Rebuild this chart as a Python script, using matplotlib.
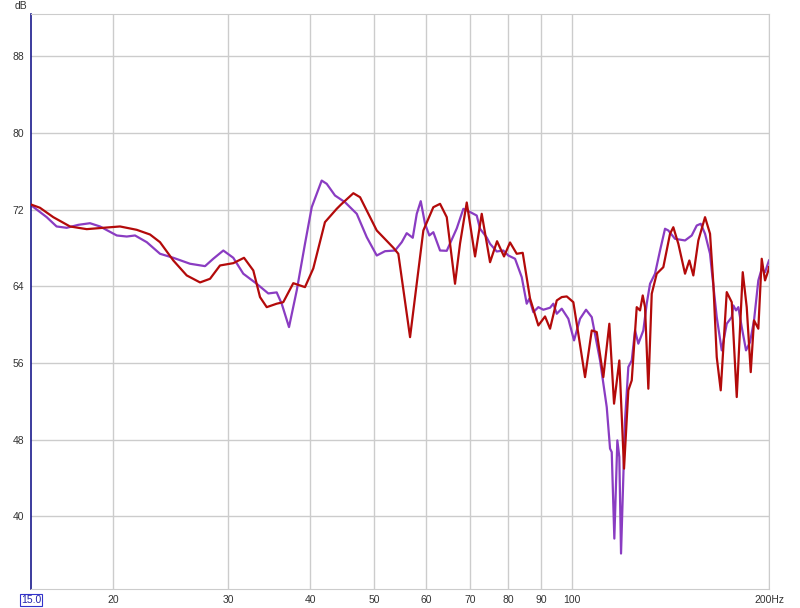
import numpy as np
import matplotlib
matplotlib.use("Agg")
import matplotlib.pyplot as plt
from matplotlib.ticker import FixedLocator, NullLocator

plt.rcParams['font.family'] = ['Liberation Sans', 'DejaVu Sans']

# red trace (Hz, dB)
red_f = [15.0, 15.48, 16.22, 17.20, 18.24, 19.33, 20.50, 21.74, 22.78, 23.59,
         24.72, 25.91, 27.15, 28.12, 29.12, 30.51, 31.68, 32.73, 33.51, 34.31,
         35.53, 36.36, 37.66, 39.24, 40.40, 42.09, 43.86, 44.53, 46.50, 47.61,
         48.45, 49.31, 50.48,
         53.51, 54.45, 56.74, 59.45, 61.57, 63.04, 64.54, 66.44, 67.62, 69.23,
         71.28, 72.97, 75.13, 77.0, 78.91, 80.59, 82.51, 84.26, 86.45, 89.01,
         91.13, 92.74, 94.95, 96.63, 98.34, 100.64, 102.42, 104.86, 107.36, 109.26,
         111.82, 114.20, 116.10, 118.27, 120.24, 122.07, 123.54, 125.72, 127.19, 128.40,
         129.44, 130.95, 132.52, 134.86, 138.02, 141.31, 142.95, 145.49, 148.95, 151.22,
         153.35, 156.07, 159.78, 162.61, 164.51, 166.48, 168.83, 172.43, 175.48, 178.59,
         182.39, 184.96, 187.58, 189.76, 192.65, 194.96, 197.23, 199.53, 200.0]
red_db = [72.52, 72.18, 71.20, 70.23, 69.95, 70.09, 70.23, 69.88, 69.39, 68.59,
          66.68, 65.12, 64.39, 64.77, 66.16, 66.40, 66.96, 65.64, 62.86, 61.81,
          62.17, 62.33, 64.31, 63.90, 65.85, 70.68, 72.07, 72.52, 73.70, 73.28,
          72.24, 71.20, 69.81,
          68.01, 67.38, 58.68, 69.81, 72.24, 72.59, 71.20, 64.25, 68.45, 72.73,
          67.10, 71.55, 66.50, 68.69, 67.10, 68.56, 67.38, 67.48, 62.72, 59.90,
          60.84, 59.56, 62.51, 62.86, 62.93, 62.33, 59.04, 54.51, 59.38, 59.21,
          54.51, 60.08, 51.74, 56.25, 44.96, 53.13, 54.17, 61.81, 61.47, 63.03,
          61.81, 53.30, 63.21, 65.30, 65.98, 69.47, 70.15, 68.42, 65.30, 66.68,
          65.12, 68.77, 71.20, 69.47, 64.25, 56.60, 53.13, 63.38, 62.33, 52.43,
          65.46, 61.81, 55.03, 60.43, 59.56, 66.86, 64.60, 65.64, 66.0]

# purple trace (Hz, dB)
pur_f = [15.0, 15.85, 16.41, 17.00, 17.71, 18.45, 19.11, 20.27, 20.99, 21.61,
         22.52, 23.59, 24.72, 26.21, 27.63, 28.44, 29.46, 30.51, 31.60, 33.12,
         34.50, 35.53, 36.16, 37.10, 38.12, 39.24, 40.18, 41.61, 42.35, 43.60,
         45.16, 47.06, 48.74, 50.48, 51.97, 53.83, 55.11, 56.08, 57.28, 58.09,
         58.91, 59.80, 60.71, 61.57, 63.04, 64.54, 66.84, 68.41, 70.03, 71.70,
         72.54, 74.26, 75.13, 76.92, 78.72, 80.11, 82.02, 83.97, 85.45, 86.24,
         87.46, 89.01, 90.58, 92.74, 93.82, 94.95, 96.63, 98.89, 100.89, 103.04,
         105.23, 107.36, 110.53, 113.16, 114.48, 115.16, 116.22, 117.45, 118.27, 118.98,
         120.66, 122.07, 123.54, 124.98, 126.43, 128.67, 130.21, 131.73, 134.06, 136.44,
         138.85, 140.47, 143.81, 148.95, 152.49, 155.20, 157.39, 159.78, 162.61, 163.58,
         166.48, 169.43, 172.43, 175.48, 176.47, 178.15, 179.59, 181.75, 184.51, 187.12,
         189.76, 192.65, 194.96, 197.23, 200.0]
pur_db = [72.45, 71.20, 70.23, 70.09, 70.40, 70.57, 70.23, 69.29, 69.18, 69.29,
          68.59, 67.38, 66.96, 66.34, 66.09, 66.86, 67.72, 66.96, 65.30, 64.25,
          63.24, 63.35, 62.17, 59.73, 63.55, 68.42, 72.24, 75.02, 74.68, 73.46,
          72.76, 71.55, 69.11, 67.20, 67.65, 67.72, 68.59, 69.53, 69.05, 71.55,
          72.87, 70.51, 69.29, 69.63, 67.72, 67.69, 70.02, 72.07, 71.74, 71.37,
          69.99, 69.08, 68.42, 67.62, 67.72, 67.20, 66.86, 64.94, 62.17, 62.69,
          61.29, 61.81, 61.54, 61.75, 62.17, 61.12, 61.65, 60.60, 58.34, 60.60,
          61.54, 60.77, 56.25, 51.38, 47.05, 46.69, 37.66, 47.91, 46.17, 36.10,
          50.00, 55.56, 56.25, 59.38, 58.00, 59.38, 62.17, 64.25, 65.30, 67.72,
          69.99, 69.81, 68.94, 68.77, 69.29, 70.33, 70.51, 69.47, 67.38, 65.64,
          60.77, 57.30, 60.08, 60.77, 61.99, 61.47, 61.81, 59.73, 57.30, 58.16,
          60.43, 64.60, 65.82, 65.46, 66.68]

x_ticks = [20, 30, 40, 50, 60, 70, 80, 90, 100, 200]
x_labels = ["20", "30", "40", "50", "60", "70", "80", "90", "100", "200Hz"]
y_ticks = [40, 48, 56, 64, 72, 80, 88]

fig = plt.figure(figsize=(8, 6.08), dpi=100)
ax = fig.add_axes([31 / 800, 1 - 589 / 608, 738 / 800, 575 / 608])

ax.set_xscale('log')
ax.set_xlim(15, 200)
ax.set_ylim(32.4, 92.4)

ax.xaxis.set_major_locator(FixedLocator(x_ticks))
ax.xaxis.set_minor_locator(NullLocator())
ax.set_xticklabels(x_labels)
ax.set_yticks(y_ticks)
ax.tick_params(length=0, labelsize=7.5, colors='#333333', pad=4)
ax.tick_params(axis='y', pad=5)

ax.grid(True, color='#cccccc', linewidth=1)
ax.set_axisbelow(True)
for side in ['top', 'right', 'bottom']:
    ax.spines[side].set_color('#cccccc')
ax.spines['left'].set_color('#1a1a8c')
ax.spines['left'].set_linewidth(1.2)

ax.plot(red_f, red_db, color='#b30a0a', lw=1.6, zorder=3,
        solid_joinstyle='round')
ax.plot(pur_f, pur_db, color='#8a3cc2', lw=1.6, zorder=2,
        solid_joinstyle='round')

fig.text(15 / 800, 1 - 6 / 608, "dB", fontsize=7.5, color='#333333', va='center')
fig.text(31 / 800, 1 - 600 / 608, "15.0", fontsize=7.5, color='#2222aa', ha='center', va='center',
         bbox=dict(boxstyle='square,pad=0.1', fc='white', ec='#3333cc', lw=0.8))

fig.savefig("out.png", dpi=100)
